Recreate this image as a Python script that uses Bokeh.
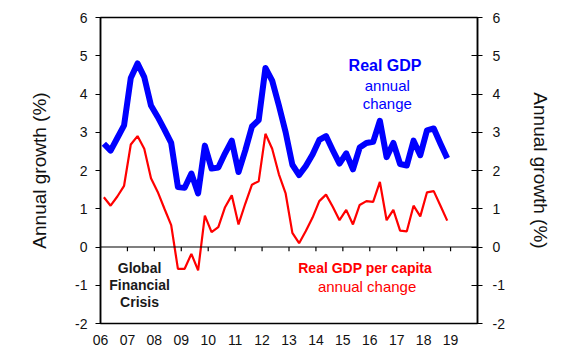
from bokeh.plotting import figure
from bokeh.models import LinearAxis, FixedTicker, Range1d, Label, Span, ColumnDataSource
from bokeh.embed import file_html
from bokeh.resources import INLINE

# ---- data (quarterly, 2006Q1 .. 2018Q4) ----
start_year = 2006
n_quarters = 52
real_gdp = [2.70, 2.52, 2.85, 3.18, 4.42, 4.80, 4.44, 3.70, 3.40, 3.07,
            2.72, 1.57, 1.55, 1.92, 1.40, 2.65, 2.05, 2.08, 2.45, 2.78,
            1.96, 2.52, 3.15, 3.32, 4.68, 4.35, 3.70, 3.00, 2.15, 1.88,
            2.12, 2.42, 2.80, 2.90, 2.53, 2.18, 2.45, 2.03, 2.60, 2.72,
            2.75, 3.30, 2.35, 2.72, 2.17, 2.13, 2.78, 2.40, 3.05, 3.10,
            2.70, 2.32]
real_gdp_pc = [1.30, 1.08, 1.32, 1.60, 2.68, 2.90, 2.57, 1.80, 1.44, 1.00,
               0.57, -0.57, -0.57, -0.18, -0.61, 0.82, 0.39, 0.52, 1.04, 1.35,
               0.59, 1.13, 1.63, 1.72, 2.96, 2.57, 1.90, 1.40, 0.37, 0.10,
               0.42, 0.77, 1.20, 1.37, 1.05, 0.70, 0.97, 0.59, 1.10, 1.20,
               1.18, 1.70, 0.70, 0.97, 0.43, 0.41, 1.08, 0.80, 1.43, 1.46,
               1.08, 0.69]
quarter_x = [start_year + (i + 0.5) / 4.0 for i in range(n_quarters)]

tick_years = list(range(2006, 2020))
tick_labels = ["06", "07", "08", "09", "10", "11", "12", "13", "14", "15",
               "16", "17", "18", "19"]
y_ticks = [-2, -1, 0, 1, 2, 3, 4, 5, 6]
y_tick_labels = ["-2", "-1", "0", "1", "2", "3", "4", "5", "6"]

FONT = "Liberation Sans"
BLUE = "#0000FF"
RED = "#FF0000"
INK = "#111111"

p = figure(frame_width=377, frame_height=306,
           x_range=Range1d(2006, 2020), y_range=Range1d(-2, 6),
           output_backend="svg", toolbar_location=None,
           min_border_left=100, min_border_right=92,
           min_border_top=17, min_border_bottom=37)
p.background_fill_color = "white"
p.border_fill_color = "white"
p.grid.visible = False
p.outline_line_color = "black"
p.outline_line_width = 1.5

y_overrides = {t: lab for t, lab in zip(y_ticks, y_tick_labels)}

# left axis
ya = p.yaxis[0]
ya.ticker = FixedTicker(ticks=y_ticks)
ya.major_label_overrides = y_overrides
ya.major_tick_out = 5
ya.major_tick_in = 0
ya.minor_tick_line_color = None
ya.axis_line_color = "black"
ya.axis_line_width = 1.5
ya.major_tick_line_color = "black"
ya.major_tick_line_width = 1.2
ya.major_label_standoff = 8
ya.major_label_text_font = FONT
ya.major_label_text_font_size = "14px"
ya.major_label_text_color = INK
ya.axis_label = "Annual growth (%)"
ya.axis_label_text_font = FONT
ya.axis_label_text_font_size = "19px"
ya.axis_label_text_font_style = "normal"
ya.axis_label_text_color = INK
ya.axis_label_standoff = 22

# right axis
ra = LinearAxis(ticker=FixedTicker(ticks=y_ticks))
ra.major_label_overrides = y_overrides
ra.major_tick_out = 5
ra.major_tick_in = 6
ra.minor_tick_line_color = None
ra.axis_line_color = "black"
ra.axis_line_width = 1.5
ra.major_tick_line_color = "black"
ra.major_tick_line_width = 1.2
ra.major_label_standoff = 10
ra.major_label_text_font = FONT
ra.major_label_text_font_size = "14px"
ra.major_label_text_color = INK
ra.axis_label = "Annual growth (%)"
ra.axis_label_text_font = FONT
ra.axis_label_text_font_size = "19px"
ra.axis_label_text_font_style = "normal"
ra.axis_label_text_color = INK
ra.axis_label_standoff = 22
p.add_layout(ra, "right")

# bottom axis (labels only)
xa = p.xaxis[0]
xa.ticker = FixedTicker(ticks=tick_years)
xa.major_label_overrides = {y: lab for y, lab in zip(tick_years, tick_labels)}
xa.major_tick_in = 0
xa.major_tick_out = 0
xa.major_tick_line_color = None
xa.minor_tick_line_color = None
xa.axis_line_color = None
xa.major_label_standoff = 11
xa.major_label_text_font = FONT
xa.major_label_text_font_size = "14px"
xa.major_label_text_color = INK

# zero line with year ticks hanging below
p.add_layout(Span(location=0, dimension="width", line_color="black", line_width=1.2))
tick_src = ColumnDataSource(dict(x=tick_years[1:], y0=[0] * (len(tick_years) - 1),
                                 y1=[-0.11] * (len(tick_years) - 1)))
p.segment(x0="x", y0="y0", x1="x", y1="y1", source=tick_src, line_color="black", line_width=1.2)

# series
p.line(quarter_x, real_gdp_pc, line_color=RED, line_width=2.2)
p.line(quarter_x, real_gdp, line_color=BLUE, line_width=6, line_join="round")

# annotations
notes = [
    (2016.65, 4.75, "Real  GDP", BLUE, "16px", "bold"),
    (2016.65, 4.22, "annual", BLUE, "15px", "normal"),
    (2016.65, 3.75, "change", BLUE, "15px", "normal"),
    (2007.45, -0.55, "Global", "#1a1a1a", "14px", "bold"),
    (2007.45, -1.00, "Financial", "#1a1a1a", "14px", "bold"),
    (2007.45, -1.43, "Crisis", "#1a1a1a", "14px", "bold"),
    (2015.9, -0.56, "Real GDP  per capita", RED, "14px", "bold"),
    (2015.9, -1.02, "annual change", RED, "15px", "normal"),
]
for nx, ny, txt, col, size, style in notes:
    p.add_layout(Label(x=nx, y=ny, text=txt, text_color=col, text_font=FONT,
                       text_font_size=size, text_font_style=style,
                       text_align="center", text_baseline="middle"))

open("out.html", "w").write(file_html(p, INLINE))
